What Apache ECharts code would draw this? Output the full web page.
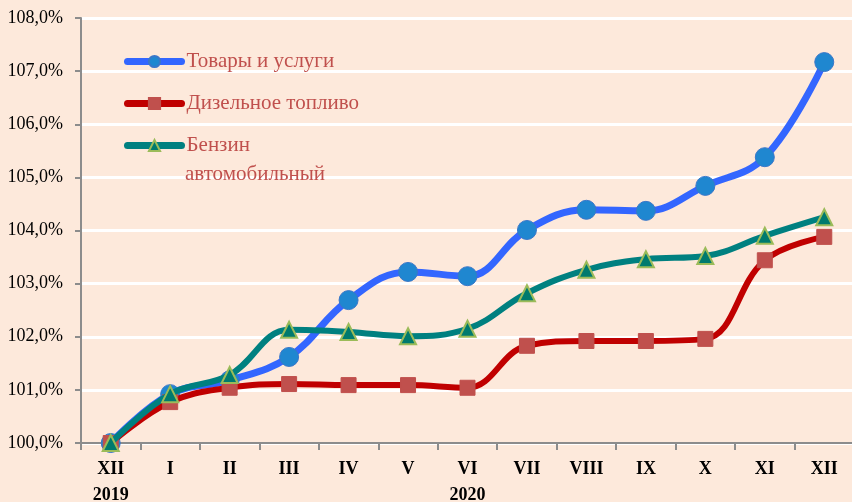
<!DOCTYPE html>
<html>
<head>
<meta charset="utf-8">
<script src="https://cdn.jsdelivr.net/npm/echarts@6/dist/echarts.min.js"></script>
<style>
  html, body { margin: 0; padding: 0; background: #fde9db; }
  #main { width: 852px; height: 502px; }
</style>
</head>
<body>
<div id="main"></div>
<script>
var months = ['XII\n2019', 'I', 'II', 'III', 'IV', 'V', 'VI\n2020', 'VII', 'VIII', 'IX', 'X', 'XI', 'XII'];

var goods = [100.0, 100.92, 101.18, 101.62, 102.69, 103.22, 103.14, 104.01, 104.39, 104.37, 104.84, 105.38, 107.17];
var diesel = [100.0, 100.77, 101.04, 101.11, 101.09, 101.09, 101.04, 101.83, 101.92, 101.92, 101.96, 103.44, 103.88];
var petrol = [100.0, 100.92, 101.28, 102.13, 102.09, 102.01, 102.15, 102.82, 103.26, 103.46, 103.52, 103.90, 104.25];

var chartDom = document.getElementById('main');
var myChart = echarts.init(chartDom);
var option;

var serif = '"Liberation Serif", "DejaVu Serif", serif';
var legendColor = '#c0504d';

option = {
  backgroundColor: '#fde9db',
  animation: false,
  legend: {
    orient: 'vertical',
    left: 119,
    top: 46,
    itemWidth: 54,
    itemHeight: 14,
    itemGap: 21,
    lineStyle: { width: 7, cap: 'round' },
    textStyle: {
      fontFamily: serif,
      fontSize: 21,
      color: legendColor
    },
    data: ['Товары и услуги', 'Дизельное топливо', 'Бензин']
  },
  // second line of the third legend label
  graphic: [
    {
      type: 'text',
      left: 185,
      top: 164,
      z: 10,
      style: {
        text: 'автомобильный',
        font: '21px ' + serif,
        fill: legendColor
      }
    }
  ],
  grid: {
    left: 81,
    top: 18,
    width: 773,
    bottom: 59,
    outerBoundsMode: 'none'
  },
  xAxis: {
    type: 'category',
    data: months,
    boundaryGap: true,
    axisLine: { lineStyle: { color: '#8c8c8c', width: 2 } },
    axisTick: { show: true, length: 7, lineStyle: { color: '#8c8c8c', width: 2 } },
    axisLabel: {
      color: '#000',
      fontFamily: serif,
      fontWeight: 'bold',
      fontSize: 18,
      lineHeight: 26,
      margin: 13,
      interval: 0
    }
  },
  yAxis: {
    type: 'value',
    min: 100,
    max: 108,
    interval: 1,
    axisLine: { show: true, lineStyle: { color: '#8c8c8c', width: 2 } },
    axisTick: { show: true, length: 6, lineStyle: { color: '#8c8c8c', width: 2 } },
    splitLine: { lineStyle: { color: '#ffffff', width: 3 } },
    axisLabel: {
      color: '#000',
      fontFamily: serif,
      fontSize: 18,
      margin: 18,
      formatter: function (v) {
        return v.toFixed(1).replace('.', ',') + '%';
      }
    }
  },
  series: [
    {
      name: 'Товары и услуги',
      type: 'line',
      smooth: 0.4,
      data: goods,
      symbol: 'circle',
      symbolSize: 19,
      lineStyle: { color: '#3366ff', width: 7 },
      itemStyle: { color: '#1f87d0', borderColor: '#3a77c9', borderWidth: 1 },
      z: 2
    },
    {
      name: 'Дизельное топливо',
      type: 'line',
      smooth: 0.4,
      data: diesel,
      symbol: 'rect',
      symbolSize: 15,
      lineStyle: { color: '#c00000', width: 6 },
      itemStyle: { color: '#c0504d', borderColor: '#c0504d', borderWidth: 1 },
      z: 3
    },
    {
      name: 'Бензин',
      type: 'line',
      smooth: 0.4,
      data: petrol,
      symbol: 'triangle',
      symbolSize: 16,
      lineStyle: { color: '#008080', width: 6 },
      itemStyle: { color: '#007a6e', borderColor: '#9bbb59', borderWidth: 2 },
      z: 4
    }
  ]
};

myChart.setOption(option);
</script>
</body>
</html>
